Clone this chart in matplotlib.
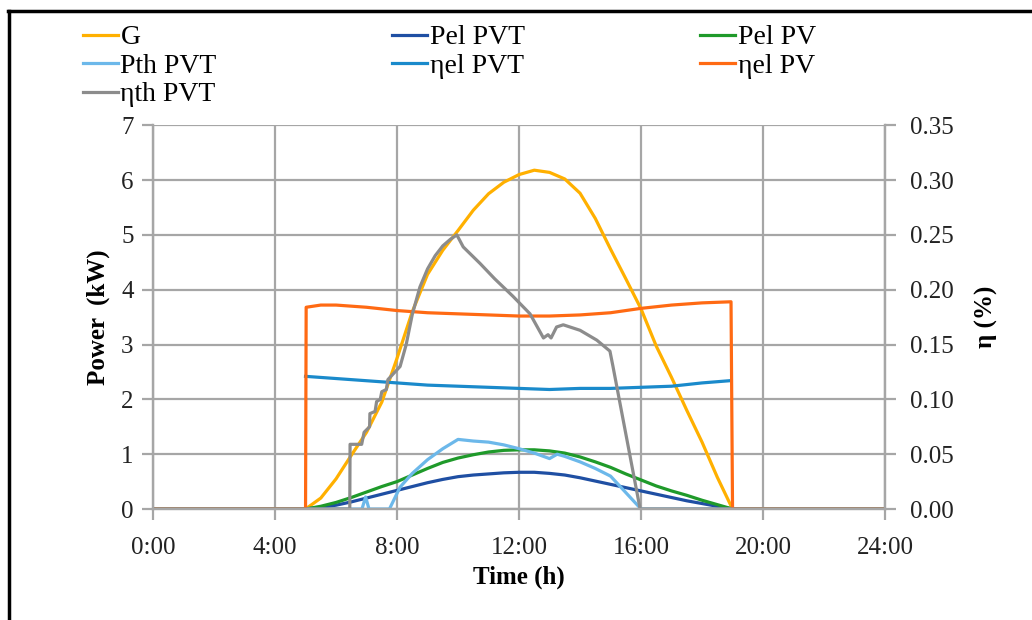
import matplotlib
matplotlib.use("Agg")
import matplotlib.pyplot as plt
from matplotlib.lines import Line2D

plt.rcParams["font.family"] = ["Liberation Serif", "DejaVu Serif"]

# Zeitachse in Stunden
t_g = [0, 5.0, 5.5, 6.0, 6.5, 7.0, 7.5, 8.0, 8.5, 9.0, 9.5, 10.0, 10.5, 11.0, 11.5,
       12.0, 12.5, 13.0, 13.5, 14.0, 14.5, 15.0, 15.5, 16.0, 16.5, 17.0, 17.5,
       18.0, 18.5, 19.0, 24]
g_vals = [0, 0, 0.2, 0.55, 0.98, 1.4, 1.95, 2.75, 3.6, 4.28, 4.72, 5.08, 5.45, 5.75,
          5.96, 6.1, 6.18, 6.14, 6.02, 5.76, 5.3, 4.74, 4.2, 3.65, 2.97, 2.4, 1.8,
          1.22, 0.58, 0, 0]
pel_pv = [0, 0, 0.05, 0.12, 0.21, 0.31, 0.41, 0.5, 0.62, 0.74, 0.85, 0.93, 0.99,
          1.04, 1.07, 1.08, 1.08, 1.06, 1.02, 0.95, 0.86, 0.76, 0.64, 0.53, 0.42,
          0.33, 0.25, 0.16, 0.08, 0, 0]
pel_pvt = [0, 0, 0.03, 0.07, 0.13, 0.2, 0.27, 0.34, 0.41, 0.48, 0.54, 0.59, 0.62,
           0.64, 0.66, 0.67, 0.67, 0.65, 0.62, 0.57, 0.51, 0.45, 0.39, 0.33, 0.27,
           0.21, 0.15, 0.1, 0.05, 0, 0]

t_pth = [0, 6.85, 6.97, 7.08, 7.75, 8.1, 8.5, 9.0, 9.5, 10.0, 10.5, 11.0, 11.5, 12.0,
         12.5, 13.0, 13.25, 13.5, 14.0, 14.5, 15.0, 15.5, 16.0, 24]
pth_pvt = [0, 0, 0.22, 0, 0, 0.4, 0.65, 0.9, 1.1, 1.27, 1.24, 1.22, 1.17, 1.1,
           1.02, 0.92, 1.0, 0.96, 0.86, 0.74, 0.6, 0.3, 0, 0]

t_etael_pvt = [5, 6, 7, 8, 9, 10, 11, 12, 13, 14, 15, 16, 17, 18, 18.9]
etael_pvt = [0.121, 0.119, 0.117, 0.115, 0.113, 0.112, 0.111, 0.110, 0.109, 0.110,
             0.110, 0.111, 0.112, 0.115, 0.117]

t_etael_pv = [0, 5.0, 5.02, 5.5, 6, 7, 8, 9, 10, 11, 12, 13, 14, 15, 16, 17, 18,
              18.95, 19.0, 24]
etael_pv = [0, 0, 0.184, 0.186, 0.186, 0.184, 0.181, 0.179, 0.178, 0.177, 0.176,
            0.176, 0.177, 0.179, 0.183, 0.186, 0.188, 0.189, 0, 0]

t_etath = [0, 6.45, 6.46, 6.84, 6.92, 7.1, 7.11, 7.28, 7.33, 7.45, 7.5, 7.65, 7.7,
           8.1, 8.3, 8.5, 8.75, 9.0, 9.25, 9.5, 9.75, 9.96, 10.17, 10.72, 11.2,
           11.8, 12.36, 12.8, 12.95, 13.05, 13.23, 13.45, 14.0, 14.55, 14.98, 15.08,
           15.97, 24]
etath_pvt = [0, 0, 0.059, 0.059, 0.070, 0.075, 0.087, 0.089, 0.098, 0.10, 0.107,
             0.109, 0.118, 0.13, 0.15, 0.1775, 0.2025, 0.219, 0.231, 0.24, 0.246,
             0.25, 0.239, 0.224, 0.21, 0.194, 0.178, 0.156, 0.159, 0.156, 0.166,
             0.168, 0.163, 0.154, 0.144, 0.13, 0.0, 0]

x_ticks = [0, 4, 8, 12, 16, 20, 24]
x_labels = ["0:00", "4:00", "8:00", "12:00", "16:00", "20:00", "24:00"]

grid_col = "#a6a6a6"
lw = 2.3

fig = plt.figure(figsize=(10.32, 6.2), dpi=100)
ax = fig.add_axes([0.1483, 0.179, 0.7093, 0.619])
ax2 = ax.twinx()

l_g, = ax.plot(t_g, g_vals, color="#ffb000", lw=lw, label="G")
l_pelpvt, = ax.plot(t_g, pel_pvt, color="#1f4fa3", lw=lw, label="Pel PVT")
l_pelpv, = ax.plot(t_g, pel_pv, color="#1f9a2a", lw=lw, label="Pel PV")
l_pth, = ax.plot(t_pth, pth_pvt, color="#6cb8ea", lw=lw, label="Pth PVT")
l_elpvt, = ax2.plot(t_etael_pvt, etael_pvt, color="#1a8acb", lw=lw, label="ηel PVT")
l_elpv, = ax2.plot(t_etael_pv, etael_pv, color="#ff6a13", lw=lw, label="ηel PV")
l_th, = ax2.plot(t_etath, etath_pvt, color="#8c8c8c", lw=lw, label="ηth PVT")

ax.set_xlim(0, 24)
ax.set_ylim(0, 7)
ax2.set_ylim(0, 0.35)
ax.set_xticks(x_ticks)
ax.set_xticklabels(x_labels)
ax.set_yticks(range(8))
ax2.set_yticks([i * 0.05 for i in range(8)])
ax2.set_yticklabels([f"{i * 0.05:.2f}" for i in range(8)])

ax.grid(True, color=grid_col, lw=1.6)
for a in (ax, ax2):
    for s in a.spines.values():
        s.set_color(grid_col)
        s.set_linewidth(1.6)
    a.spines["top"].set_visible(False)
    a.tick_params(colors=grid_col, width=1.6, length=8, labelsize=18,
                  labelcolor="#222222", pad=6)
ax.tick_params(axis="x", pad=12)
ax2.tick_params(axis="y", pad=10)

ax.set_xlabel("Time (h)", fontsize=18, fontweight="bold", labelpad=5)
ax.set_ylabel("Power  (kW)", fontsize=18, fontweight="bold", labelpad=8)
ax2.set_ylabel("η (%)", fontsize=18, fontweight="bold", labelpad=15)

handles = [l_g, l_pth, l_th, l_pelpvt, l_elpvt, l_pelpv, l_elpv]
fig.legend(handles=handles, labels=[h.get_label() for h in handles], ncol=3,
           loc="upper left", bbox_to_anchor=(0.0804, 0.960), frameon=False,
           fontsize=20, handlelength=1.25, handletextpad=0.1, columnspacing=6.32,
           labelspacing=0.11, borderpad=0, borderaxespad=0)

# schwarzer Rahmen links und oben
fig.add_artist(Line2D([0.009, 0.009], [0, 0.982], color="black", lw=2.5,
                      transform=fig.transFigure))
fig.add_artist(Line2D([0.008, 1.0], [0.982, 0.982], color="black", lw=2.5,
                      transform=fig.transFigure))

fig.savefig("out.png", dpi=100)
